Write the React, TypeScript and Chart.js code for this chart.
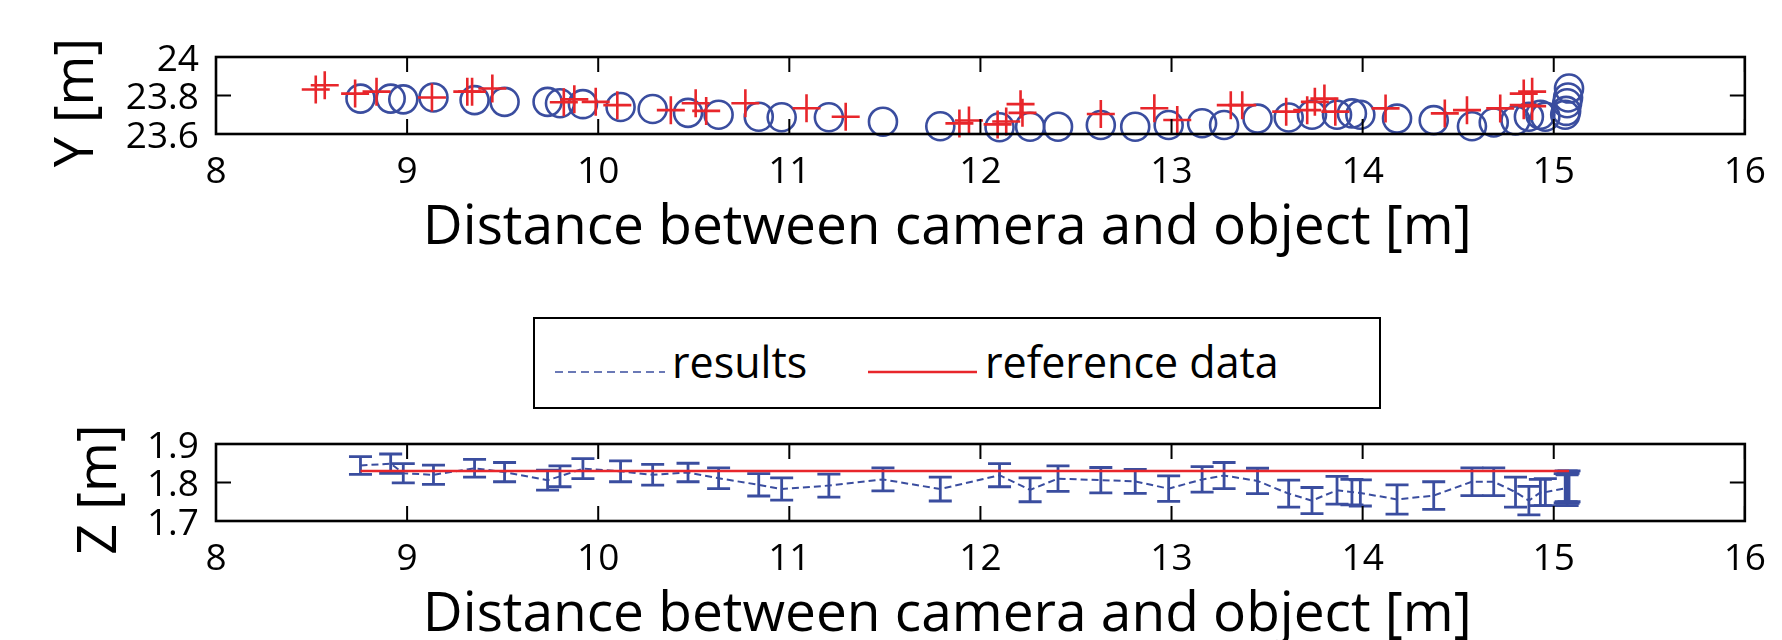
import React, { useEffect, useRef } from "react";
import { Chart, registerables } from "chart.js";

Chart.register(...registerables);

// ---------- data ----------
const RESULTS_LABEL = "results";
const REFERENCE_LABEL = "reference data";
const X_TITLE = "Distance between camera and object [m]";
const Y_TITLE = "Y [m]";
const Z_TITLE = "Z [m]";

const X_TICKS = [8, 9, 10, 11, 12, 13, 14, 15, 16];
const Y_TICKS = [23.6, 23.8, 24];
const Z_TICKS = [1.7, 1.8, 1.9];

// distance of each result sample
const RES_X = [
  8.756, 8.914, 8.98, 9.138, 9.353, 9.51, 9.735, 9.8, 9.92, 10.117, 10.285, 10.47, 10.63,
  10.84, 10.96, 11.207, 11.49, 11.79, 12.1, 12.26, 12.406, 12.63, 12.81, 12.985, 13.16, 13.275, 13.45,
  13.613, 13.735, 13.866, 13.944, 13.988, 14.18, 14.372, 14.572, 14.686, 14.8, 14.87, 14.93, 14.956,
  15.06, 15.065, 15.07, 15.075, 15.08,
];
const RES_Y = [
  23.784, 23.784, 23.78, 23.79, 23.776, 23.767, 23.767, 23.76, 23.755, 23.74, 23.73, 23.71, 23.7,
  23.69, 23.687, 23.687, 23.664, 23.64, 23.635, 23.638, 23.638, 23.647, 23.638, 23.647, 23.656, 23.647, 23.68,
  23.686, 23.7, 23.7, 23.707, 23.7, 23.68, 23.672, 23.64, 23.66, 23.67, 23.69, 23.7, 23.69,
  23.7, 23.72, 23.76, 23.79, 23.836,
];
const RES_Z = [
  1.844, 1.849, 1.824, 1.82, 1.837, 1.827, 1.806, 1.816, 1.836, 1.829, 1.82, 1.826, 1.811,
  1.794, 1.783, 1.792, 1.808, 1.783, 1.819, 1.781, 1.81, 1.806, 1.803, 1.784, 1.808, 1.818, 1.804,
  1.771, 1.753, 1.78, 1.775, 1.773, 1.756, 1.766, 1.802, 1.802, 1.775, 1.753, 1.774, 1.775,
  1.785, 1.79, 1.78, 1.785, 1.79,
];
const RES_Z_ERR = [
  0.023, 0.025, 0.025, 0.025, 0.023, 0.025, 0.026, 0.027, 0.026, 0.027, 0.027, 0.024, 0.027,
  0.029, 0.029, 0.03, 0.03, 0.031, 0.03, 0.031, 0.033, 0.033, 0.031, 0.033, 0.033, 0.034, 0.033,
  0.035, 0.034, 0.036, 0.033, 0.034, 0.038, 0.036, 0.036, 0.036, 0.039, 0.037, 0.034, 0.035,
  0.038, 0.04, 0.04, 0.039, 0.04,
];

// reference (ground truth) samples
const REF_X = [
  8.522, 8.569, 8.728, 8.84, 9.13, 9.315, 9.34, 9.446, 9.82, 9.875, 9.987, 10.1, 10.38, 10.51, 10.565,
  10.77, 11.09, 11.295, 11.89, 11.94, 12.09, 12.135, 12.21, 12.22, 12.63, 12.91, 13.03, 13.31, 13.37,
  13.6, 13.71, 13.75, 13.8, 13.857, 14.12, 14.43, 14.546, 14.72, 14.843, 14.887, 14.843, 14.887,
];
const REF_Y = [
  23.831, 23.853, 23.81, 23.82, 23.79, 23.82, 23.82, 23.836, 23.765, 23.78, 23.767, 23.75, 23.724, 23.76, 23.72,
  23.76, 23.734, 23.69, 23.655, 23.67, 23.65, 23.665, 23.755, 23.71, 23.704, 23.734, 23.673, 23.75, 23.75,
  23.716, 23.724, 23.767, 23.784, 23.716, 23.733, 23.707, 23.724, 23.733, 23.81, 23.82, 23.75, 23.745,
];
const REF_Z_X = [8.756, 15.08];
const REF_Z = [1.83, 1.83];

// ---------- styles ----------
const BLUE = "#3a4d9f";
const RED = "#e8262b";
const FONT = "'Open Sans', 'DejaVu Sans', sans-serif";
const TICK_LEN = 15;
const CAP = 11.5;
// trailing spaces nudge the centred titles the way the original is placed
const X_TITLE_PAD = "\u00a0\u00a0\u00a0\u00a0\u2009";
const Y_TITLE_PAD = "\u00a0";

const framePlugin = {
  id: "frame",
  afterDraw(chart: any) {
    const { ctx, chartArea, scales } = chart;
    const { left, right, top, bottom } = chartArea;
    ctx.save();
    ctx.strokeStyle = "#000";
    ctx.lineWidth = 2;
    ctx.setLineDash([]);
    ctx.beginPath();
    for (const t of scales.x.ticks) {
      const px = scales.x.getPixelForValue(t.value);
      ctx.moveTo(px, bottom);
      ctx.lineTo(px, bottom - TICK_LEN);
      ctx.moveTo(px, top);
      ctx.lineTo(px, top + TICK_LEN);
    }
    for (const t of scales.y.ticks) {
      const py = scales.y.getPixelForValue(t.value);
      ctx.moveTo(left, py);
      ctx.lineTo(left + TICK_LEN, py);
      ctx.moveTo(right, py);
      ctx.lineTo(right - TICK_LEN, py);
    }
    ctx.stroke();
    ctx.lineWidth = 2.6;
    ctx.strokeRect(left, top, right - left, bottom - top);
    ctx.restore();
  },
};

const errorBarPlugin = {
  id: "errorBars",
  afterDatasetDraw(chart: any, args: any) {
    const ds = chart.data.datasets[args.index] as any;
    if (!ds.errors) return;
    const { ctx } = chart;
    const ys = chart.scales.y;
    ctx.save();
    ctx.strokeStyle = ds.borderColor;
    ctx.lineWidth = 2.8;
    ctx.setLineDash([]);
    args.meta.data.forEach((el: any, i: number) => {
      const v = ds.data[i].y;
      const e = ds.errors[i];
      const x = el.x;
      const y1 = ys.getPixelForValue(v + e);
      const y2 = ys.getPixelForValue(v - e);
      ctx.beginPath();
      ctx.moveTo(x, y1);
      ctx.lineTo(x, y2);
      ctx.moveTo(x - CAP, y1);
      ctx.lineTo(x + CAP, y1);
      ctx.moveTo(x - CAP, y2);
      ctx.lineTo(x + CAP, y2);
      ctx.stroke();
    });
    ctx.restore();
  },
};

const fmt = (v: any) => String(Math.round(Number(v) * 10) / 10);

function makeScales(opts: {
  yMin: number; yMax: number; yTicks: number[]; yTitle: string; yTitlePad: number;
  xHeight: number; xTitlePadBottom: number;
}) {
  return {
    x: {
      type: "linear",
      min: 8,
      max: 16,
      afterBuildTicks: (s: any) => { s.ticks = X_TICKS.map((v) => ({ value: v })); },
      afterFit: (s: any) => { s.height = opts.xHeight; },
      grid: { display: false, drawTicks: false },
      border: { display: false },
      ticks: {
        autoSkip: false, maxRotation: 0, padding: 16, color: "#000",
        font: { family: FONT, size: 37 }, callback: fmt,
      },
      title: {
        display: true, text: X_TITLE + X_TITLE_PAD, color: "#000",
        font: { family: FONT, size: 55, lineHeight: 1 },
        padding: { top: 0, bottom: opts.xTitlePadBottom },
      },
    },
    y: {
      type: "linear",
      min: opts.yMin,
      max: opts.yMax,
      afterBuildTicks: (s: any) => { s.ticks = opts.yTicks.map((v) => ({ value: v })); },
      afterFit: (s: any) => { s.width = 216; },
      grid: { display: false, drawTicks: false },
      border: { display: false },
      ticks: {
        autoSkip: false, padding: 17, labelOffset: 3, color: "#000",
        font: { family: FONT, size: 37 }, callback: fmt,
      },
      title: {
        display: true, text: opts.yTitle + Y_TITLE_PAD, color: "#000",
        font: { family: FONT, size: 54, lineHeight: 1 },
        padding: { top: opts.yTitlePad, bottom: 0 },
      },
    },
  };
}

export default function App() {
  const topRef = useRef<HTMLCanvasElement>(null);
  const botRef = useRef<HTMLCanvasElement>(null);

  useEffect(() => {
    const top = new Chart(topRef.current as HTMLCanvasElement, {
      type: "scatter",
      data: {
        datasets: [
          {
            label: REFERENCE_LABEL,
            data: REF_X.map((x, i) => ({ x, y: REF_Y[i] })),
            pointStyle: "cross",
            pointRadius: 14,
            pointBorderWidth: 2.6,
            borderColor: RED,
            backgroundColor: RED,
            clip: false,
          } as any,
          {
            label: RESULTS_LABEL,
            data: RES_X.map((x, i) => ({ x, y: RES_Y[i] })),
            pointStyle: "circle",
            pointRadius: 14,
            pointBorderWidth: 2.6,
            borderColor: BLUE,
            backgroundColor: "rgba(0,0,0,0)",
            clip: false,
          } as any,
        ],
      },
      options: {
        animation: false,
        responsive: false,
        events: [],
        layout: { padding: { left: 0, right: 32, top: 57, bottom: 0 } },
        plugins: { legend: { display: false }, tooltip: { enabled: false } },
        scales: makeScales({
          yMin: 23.6, yMax: 24, yTicks: Y_TICKS, yTitle: Y_TITLE, yTitlePad: 51,
          xHeight: 126, xTitlePadBottom: 4,
        }) as any,
      },
      plugins: [framePlugin],
    });

    const bot = new Chart(botRef.current as HTMLCanvasElement, {
      type: "scatter",
      data: {
        datasets: [
          {
            label: REFERENCE_LABEL,
            data: REF_Z_X.map((x, i) => ({ x, y: REF_Z[i] })),
            showLine: true,
            borderColor: RED,
            backgroundColor: RED,
            borderWidth: 2.5,
            pointRadius: 0,
            clip: false,
          } as any,
          {
            label: RESULTS_LABEL,
            data: RES_X.map((x, i) => ({ x, y: RES_Z[i] })),
            errors: RES_Z_ERR,
            showLine: true,
            borderColor: BLUE,
            backgroundColor: BLUE,
            borderWidth: 2,
            borderDash: [7, 4],
            pointRadius: 0,
            clip: false,
          } as any,
        ],
      },
      options: {
        animation: false,
        responsive: false,
        events: [],
        layout: { padding: { left: 0, right: 32, top: 44, bottom: 0 } },
        plugins: { legend: { display: false }, tooltip: { enabled: false } },
        scales: makeScales({
          yMin: 1.7, yMax: 1.9, yTicks: Z_TICKS, yTitle: Z_TITLE, yTitlePad: 74,
          xHeight: 119, xTitlePadBottom: -3,
        }) as any,
      },
      plugins: [framePlugin, errorBarPlugin],
    });

    return () => {
      top.destroy();
      bot.destroy();
    };
  }, []);

  const textStyle: React.CSSProperties = {
    position: "absolute",
    top: 21,
    lineHeight: "43px",
    fontSize: 43,
    fontFamily: FONT,
    color: "#000",
    whiteSpace: "nowrap",
  };

  return (
    <div
      style={{
        position: "absolute", left: 0, top: 0, width: 1782, height: 640,
        background: "#fff", overflow: "hidden",
      }}
    >
      <canvas
        ref={topRef}
        width={1782}
        height={260}
        style={{ position: "absolute", left: 0, top: 0, width: 1782, height: 260 }}
      />
      <canvas
        ref={botRef}
        width={1782}
        height={240}
        style={{ position: "absolute", left: 0, top: 400, width: 1782, height: 240 }}
      />
      <div
        style={{
          position: "absolute", left: 533, top: 317, width: 848, height: 92,
          border: "2px solid #000", boxSizing: "border-box", background: "#fff",
        }}
      >
        <svg width={844} height={88} style={{ position: "absolute", left: 0, top: 0 }}>
          <line x1={20} y1={53} x2={130} y2={53} stroke={BLUE} strokeWidth={1.5} strokeDasharray="8,5" />
          <line x1={333} y1={53} x2={442} y2={53} stroke={RED} strokeWidth={2.5} />
        </svg>
        <span style={{ ...textStyle, left: 137 }}>{RESULTS_LABEL}</span>
        <span style={{ ...textStyle, left: 450 }}>{REFERENCE_LABEL}</span>
      </div>
    </div>
  );
}
